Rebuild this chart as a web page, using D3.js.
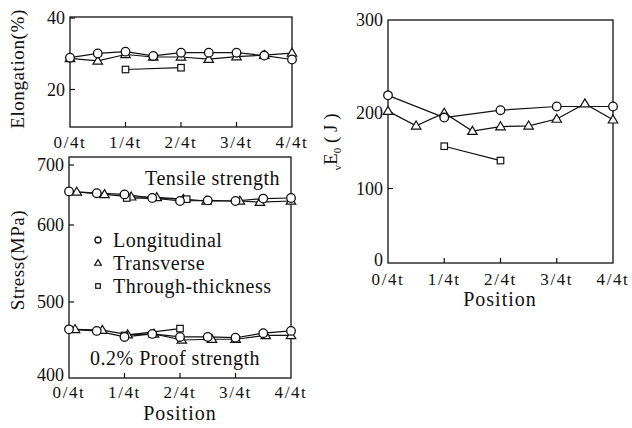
<!DOCTYPE html>
<html>
<head>
<meta charset="utf-8">
<script src="https://cdn.jsdelivr.net/npm/d3@7"></script>
<style>
  html, body { margin: 0; padding: 0; background: #fff; }
  svg { display: block; }
</style>
</head>
<body>
<svg id="chart" width="632" height="428"></svg>
<script>
// Position through the thickness (fraction of t)
const eighths = [0, 0.125, 0.25, 0.375, 0.5, 0.625, 0.75, 0.875, 1];
const positionTicks = [0, 0.25, 0.5, 0.75, 1];
const positionLabels = ["0/4t", "1/4t", "2/4t", "3/4t", "4/4t"];

// Elongation (%)
const elongLongPos = eighths;
const elongLong = [28.9, 30.1, 30.6, 29.4, 30.3, 30.3, 30.3, 29.5, 28.4];
const elongTransPos = eighths;
const elongTrans = [28.7, 28.0, 29.8, 29.1, 29.1, 28.5, 29.2, 29.6, 30.2];
const elongThickPos = [0.25, 0.5];
const elongThick = [25.6, 26.1];
const elongTicks = [20, 40];

// Tensile strength (MPa)
const tensLongPos = eighths;
const tensLong = [656, 653, 651, 645, 640, 641, 640, 644, 645];
const tensTransPos = [0.035, 0.16, 0.28, 0.395, 0.515, 0.62, 0.77, 0.86, 1.0];
const tensTrans = [655, 651, 647, 646, 643, 640, 640, 638, 640];
const tensThickPos = [0.26, 0.53];
const tensThick = [645, 643];

// 0.2% proof strength (MPa)
const proofLongPos = eighths;
const proofLong = [464, 462, 454, 458, 454, 454, 453, 459, 462];
const proofTransPos = [0.027, 0.15, 0.264, 0.383, 0.508, 0.644, 0.751, 0.886, 1.0];
const proofTrans = [464, 463, 457, 458, 450, 451, 451, 456, 456];
const proofThickPos = [0.25, 0.5];
const proofThick = [456, 465];
const stressTicks = [400, 500, 600, 700];

// Charpy absorbed energy vE0 (J)
const vLongPos = [0, 0.25, 0.5, 0.75, 1];
const vLong = [219, 194, 203, 207, 207];
const vTransPos = eighths;
const vTrans = [202, 183, 200, 176, 182, 183, 192, 210, 191];
const vThickPos = [0.25, 0.5];
const vThick = [156, 137];
const vTicks = [0, 100, 200, 300];

const legendItems = [
  { shape: "circle", label: "Longitudinal" },
  { shape: "triangle", label: "Transverse" },
  { shape: "square", label: "Through-thickness" }
];

const serif = "'Liberation Serif', 'Times New Roman', 'DejaVu Serif', serif";
const svg = d3.select("#chart")
  .attr("font-family", serif)
  .style("font-family", serif);
const ink = "#111";

function txt(g) {
  return g.append("text").attr("font-family", serif).attr("fill", ink);
}

function drawMarker(g, shape, cx, cy, s) {
  if (shape === "circle") {
    g.append("circle").attr("cx", cx).attr("cy", cy).attr("r", 4.3 * s)
      .attr("fill", "#fff").attr("stroke", ink).attr("stroke-width", 1.3);
  } else if (shape === "triangle") {
    const h = 8 * s, w = 9.5 * s;
    g.append("path")
      .attr("d", `M${cx},${cy - h * 0.6}L${cx + w / 2},${cy + h * 0.4}L${cx - w / 2},${cy + h * 0.4}Z`)
      .attr("fill", "#fff").attr("stroke", ink).attr("stroke-width", 1.2);
  } else {
    const a = 6.5 * s;
    g.append("rect").attr("x", cx - a / 2).attr("y", cy - a / 2).attr("width", a).attr("height", a)
      .attr("fill", "#fff").attr("stroke", ink).attr("stroke-width", 1.2);
  }
}

function drawSeries(g, x, y, pos, vals) {
  const pts = pos.map((p, i) => [x(p), y(vals[i])]);
  g.append("path").attr("d", d3.line()(pts))
    .attr("fill", "none").attr("stroke", ink).attr("stroke-width", 1.2);
  return pts;
}

function frame(g, x, y) {
  const [x0, x1] = x.range();
  const yr = y.range();
  const yb = d3.max(yr), yt = d3.min(yr);
  g.append("rect").attr("x", x0).attr("y", yt).attr("width", x1 - x0).attr("height", yb - yt)
    .attr("fill", "none").attr("stroke", ink).attr("stroke-width", 1.3);
  // inward x ticks
  positionTicks.slice(1, -1).forEach(t => {
    g.append("line").attr("x1", x(t)).attr("x2", x(t)).attr("y1", yb).attr("y2", yb - 5)
      .attr("stroke", ink).attr("stroke-width", 1.2);
  });
}

function xLabels(g, x, baseline) {
  positionTicks.forEach((t, i) => {
    txt(g).attr("x", x(t)).attr("y", baseline).attr("text-anchor", "middle")
      .attr("font-size", 17).attr("letter-spacing", 1.6).text(positionLabels[i]);
  });
}

function yTicks(g, x, y, ticks) {
  const x0 = x.range()[0];
  const yr = y.range();
  ticks.forEach((t, i) => {
    const py = y(t);
    if (py > d3.min(yr) + 1 && py < d3.max(yr) - 1) {
      g.append("line").attr("x1", x0).attr("x2", x0 + 5).attr("y1", py).attr("y2", py)
        .attr("stroke", ink).attr("stroke-width", 1.2);
    }
    // the lowest label is lifted a little to clear the position labels
    const lift = (py >= d3.max(yr) - 1) ? 3 : 0;
    txt(g).attr("x", x0 - 5).attr("y", py + 6 - lift).attr("text-anchor", "end")
      .attr("font-size", 18).text(t);
  });
}

function plotAll(g, x, y, sets) {
  const markerSets = sets.map(s => ({ shape: s.shape, pts: drawSeries(g, x, y, s.pos, s.vals) }));
  markerSets.forEach(ms => ms.pts.forEach(p => drawMarker(g, ms.shape, p[0], p[1], 1)));
}

// ---------- Elongation panel ----------
{
  const g = svg.append("g");
  const x = d3.scaleLinear().domain([0, 1]).range([70, 292]);
  const y = d3.scaleLinear().domain([9.5, 40.3]).range([127, 17]);
  frame(g, x, y);
  yTicks(g, x, y, elongTicks);
  xLabels(g, x, 148);
  plotAll(g, x, y, [
    { pos: elongTransPos, vals: elongTrans, shape: "triangle" },
    { pos: elongThickPos, vals: elongThick, shape: "square" },
    { pos: elongLongPos, vals: elongLong, shape: "circle" }
  ]);
  txt(g).attr("transform", "translate(24,69) rotate(-90)")
    .attr("text-anchor", "middle").attr("font-size", 19).attr("letter-spacing", 0.6)
    .text("Elongation(%)");
}

// ---------- Stress panel ----------
{
  const g = svg.append("g");
  const x = d3.scaleLinear().domain([0, 1]).range([69, 291]);
  const y = d3.scaleLinear().domain([400, 500, 600, 700, 713]).range([378, 302, 225, 165, 157]);
  frame(g, x, y);
  yTicks(g, x, y, stressTicks);
  xLabels(g, x, 398);
  plotAll(g, x, y, [
    { pos: tensTransPos, vals: tensTrans, shape: "triangle" },
    { pos: tensThickPos, vals: tensThick, shape: "square" },
    { pos: tensLongPos, vals: tensLong, shape: "circle" },
    { pos: proofTransPos, vals: proofTrans, shape: "triangle" },
    { pos: proofThickPos, vals: proofThick, shape: "square" },
    { pos: proofLongPos, vals: proofLong, shape: "circle" }
  ]);
  txt(g).attr("x", 280).attr("y", 185).attr("text-anchor", "end")
    .attr("font-size", 20).attr("letter-spacing", 0.5).text("Tensile strength");
  txt(g).attr("x", 90).attr("y", 365)
    .attr("font-size", 20).attr("letter-spacing", 0.5).text("0.2% Proof strength");
  legendItems.forEach((d, i) => {
    const cy = 240 + i * 23;
    drawMarker(g, d.shape, 98, cy, 0.7);
    txt(g).attr("x", 113).attr("y", cy + 7)
      .attr("font-size", 20).attr("letter-spacing", 0.5).text(d.label);
  });
  txt(g).attr("x", 180).attr("y", 420).attr("text-anchor", "middle")
    .attr("font-size", 20).attr("letter-spacing", 1).text("Position");
  txt(g).attr("transform", "translate(24,260) rotate(-90)")
    .attr("text-anchor", "middle").attr("font-size", 19).attr("letter-spacing", 0.6)
    .text("Stress(MPa)");
}

// ---------- Charpy energy panel ----------
{
  const g = svg.append("g");
  const x = d3.scaleLinear().domain([0, 1]).range([388, 613]);
  const y = d3.scaleLinear().domain([0, 100, 200, 300]).range([263, 188.5, 113, 20]);
  frame(g, x, y);
  yTicks(g, x, y, vTicks);
  xLabels(g, x, 285);
  plotAll(g, x, y, [
    { pos: vTransPos, vals: vTrans, shape: "triangle" },
    { pos: vThickPos, vals: vThick, shape: "square" },
    { pos: vLongPos, vals: vLong, shape: "circle" }
  ]);
  txt(g).attr("x", 500).attr("y", 306).attr("text-anchor", "middle")
    .attr("font-size", 20).attr("letter-spacing", 1).text("Position");
  const lab = txt(g).attr("transform", "translate(337,142) rotate(-90)")
    .attr("text-anchor", "middle").attr("font-size", 19);
  lab.append("tspan").attr("font-size", 11).attr("dy", 4).text("v");
  lab.append("tspan").attr("dy", -4).text("E");
  lab.append("tspan").attr("font-size", 11).attr("dy", 4).text("0");
  lab.append("tspan").attr("dy", -4).text(" ( J )");
}
</script>
</body>
</html>
